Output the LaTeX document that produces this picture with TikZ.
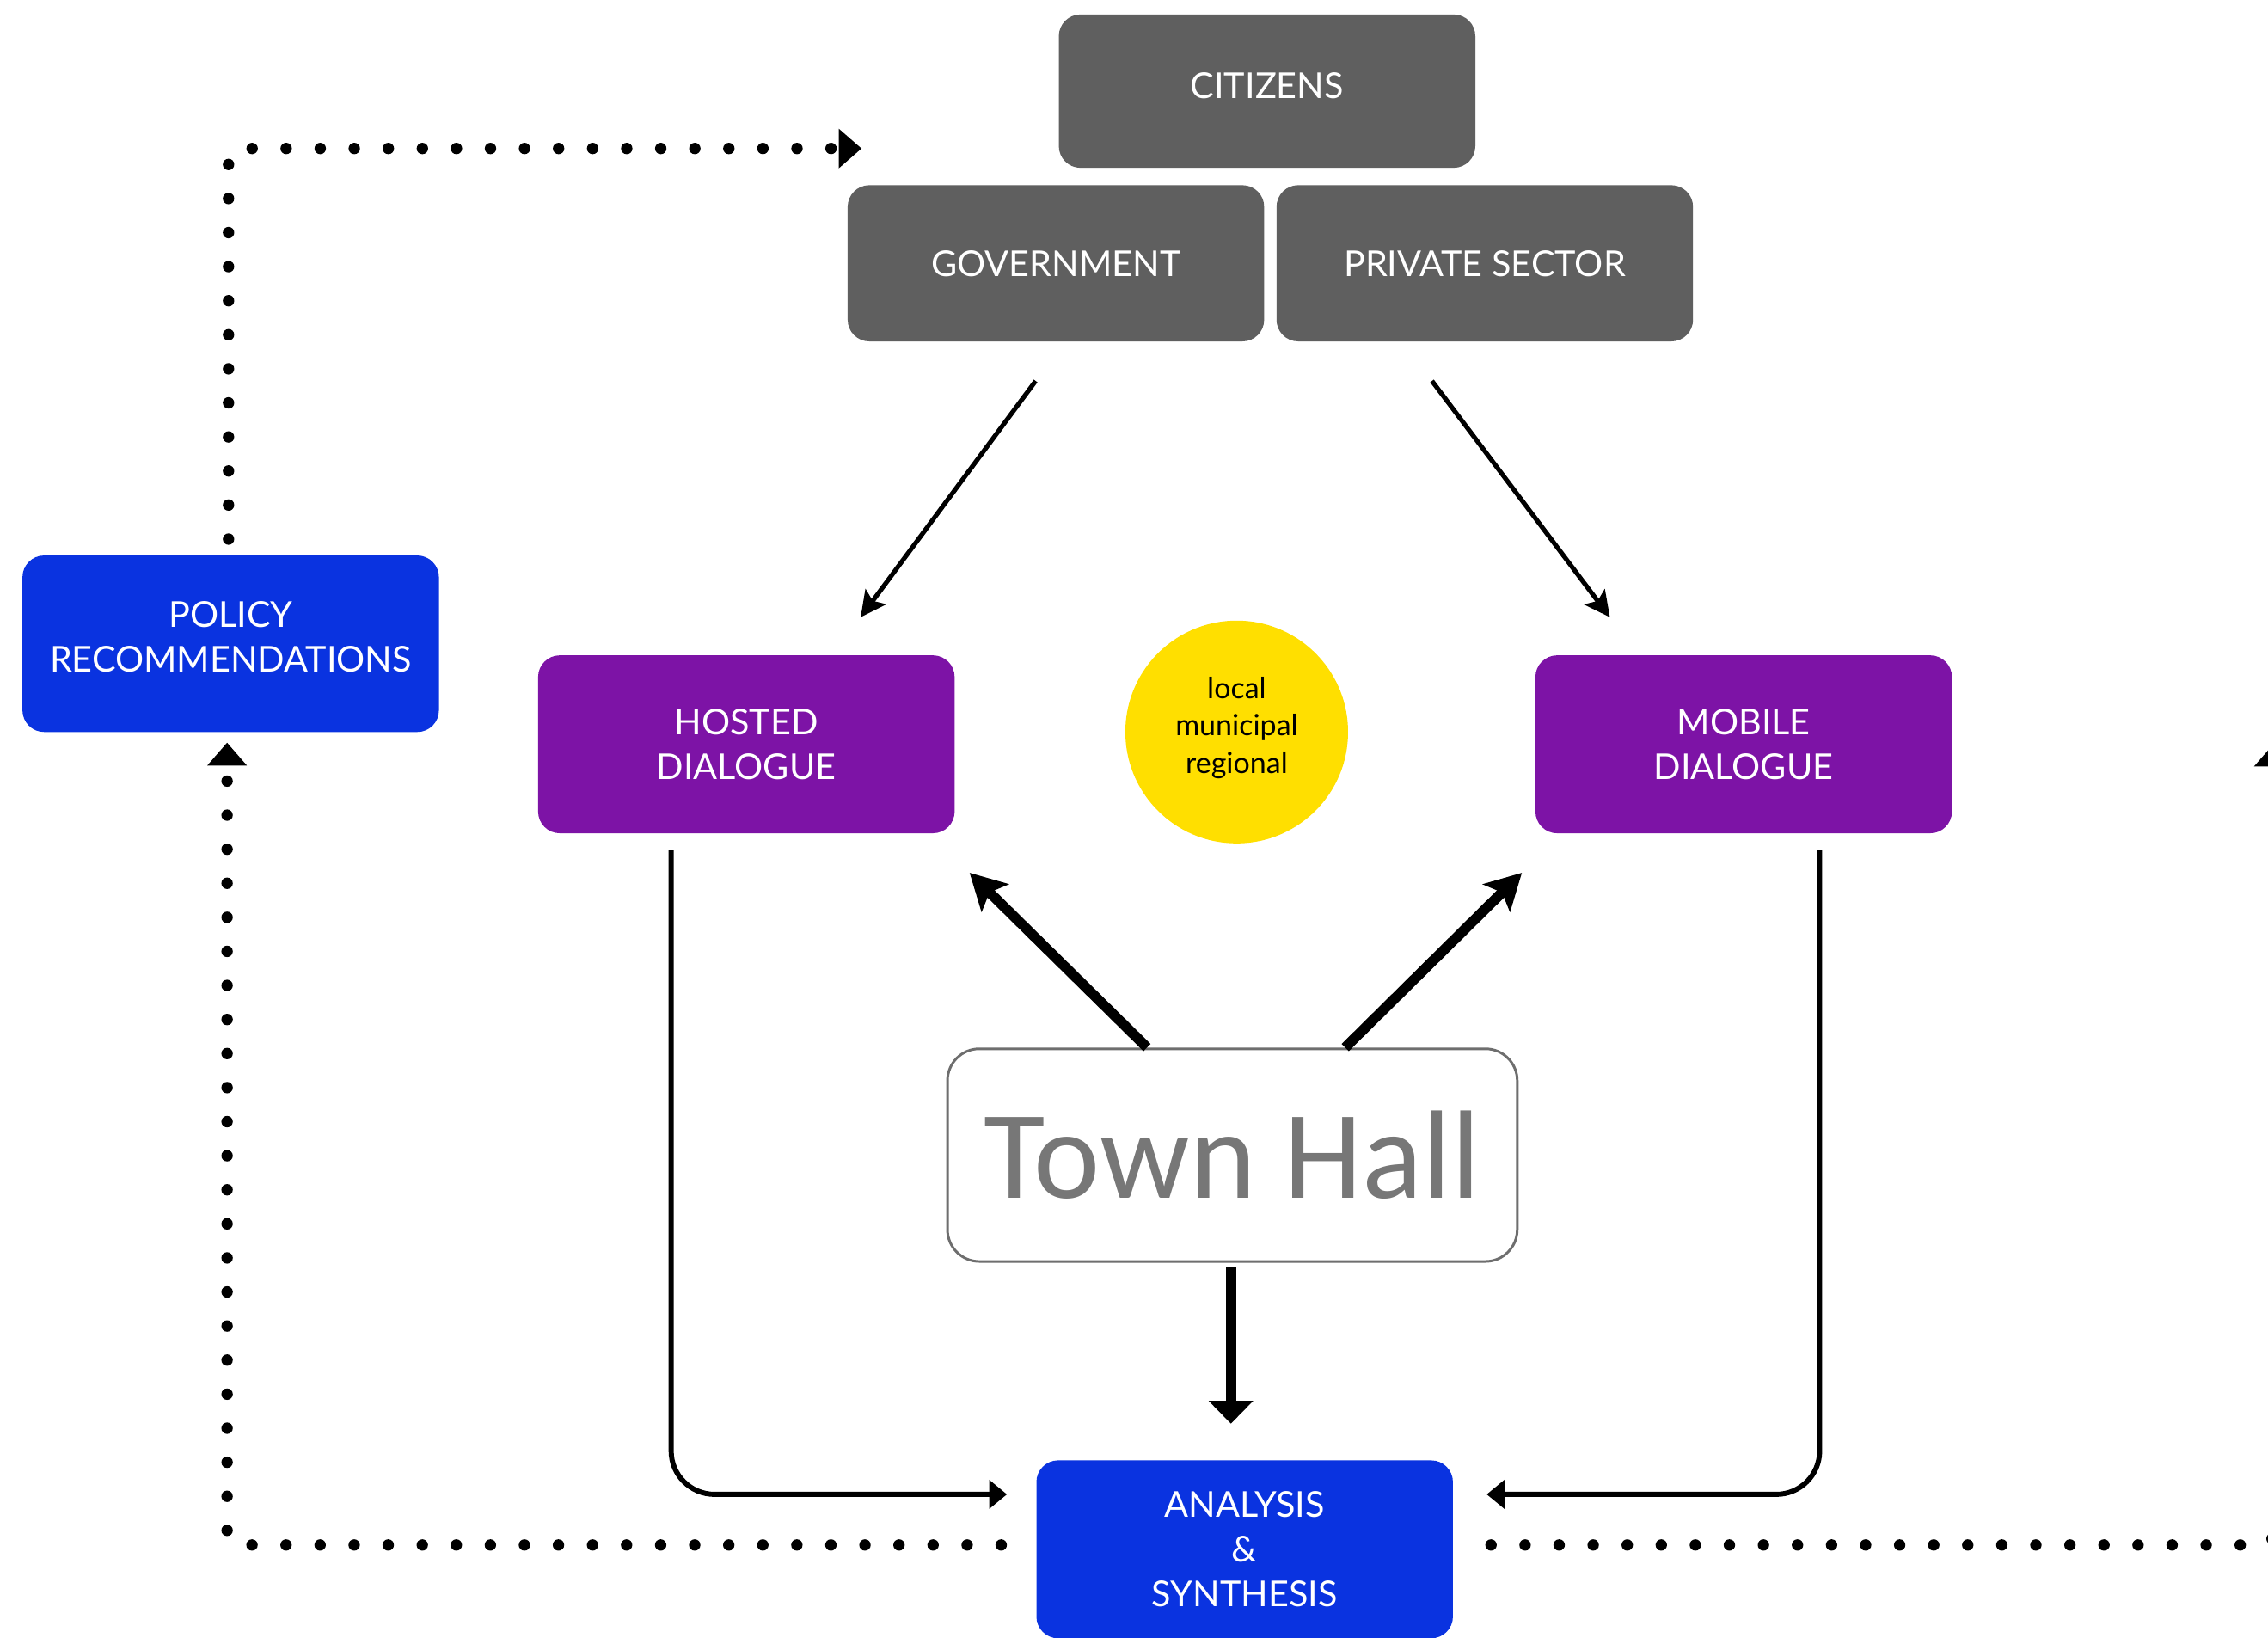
\documentclass[tikz,border=0pt]{standalone}
\usepackage{fontspec}
\setmainfont{Lato}
\newfontfamily\hallfont{Carlito}
\usetikzlibrary{arrows.meta}
\usetikzlibrary{calc}
\usetikzlibrary{positioning}

\definecolor{boxgray}{HTML}{5F5F5F}
\definecolor{boxblue}{HTML}{0A33E0}
\definecolor{boxpurple}{HTML}{7D13A6}
\definecolor{circyellow}{HTML}{FFDF00}
\definecolor{hallgray}{HTML}{777777}
\definecolor{hallline}{HTML}{6E6E6E}

\begin{document}
\begin{tikzpicture}[x=0.02cm,y=-0.02cm,
  box/.style={rectangle,rounded corners=0.3cm,minimum width=5.76cm,inner sep=0pt,align=center,text=white,font=\fontsize{14}{17.5}\selectfont},
  thin arrow/.style={line width=1.8pt,-{Stealth[length=10pt,width=10pt,inset=2pt]}},
  thick arrow/.style={line width=4pt,-{Stealth[length=14pt,width=15pt,inset=3pt]}},
  down arrow/.style={line width=4pt,-{Triangle[length=9pt,width=17pt]}},
  elbow arrow/.style={line width=2pt,rounded corners=0.6cm,-{Triangle[length=7pt,width=11pt]}},
  dots/.style={line width=4.5pt,line cap=round,dash pattern=on 0pt off 13.4pt,rounded corners=5pt,-{Triangle[length=9pt,width=15pt]}}]

\fill[white] (0,0) rectangle (1568,1132);
\useasboundingbox (0,0) rectangle (1568,1132);
\clip (0,0) rectangle (1568,1132);

% top row
\node[box,fill=boxgray,minimum height=2.12cm,text depth=4.6pt] (citizens) at (876,63) {CITIZENS};
\node[box,fill=boxgray,minimum height=2.16cm] (gov) at (730,182) {GOVERNMENT};
\node[box,fill=boxgray,minimum height=2.16cm] (priv) at (1026.5,182) {PRIVATE SECTOR};

% dialogues
\node[box,fill=boxblue,minimum height=2.44cm,text depth=5.6pt] (policy) at (159.5,445) {POLICY\\RECOMMENDATIONS};
\node[box,fill=boxpurple,minimum height=2.46cm] (hosted) at (516,514.5) {HOSTED\\DIALOGUE};
\node[box,fill=boxpurple,minimum height=2.46cm] (mobile) at (1205.5,514.5) {MOBILE\\DIALOGUE};
\node[circle,fill=circyellow,minimum size=3.08cm,inner sep=0pt,align=center,text depth=5.5pt,font=\fontsize{11.5}{14.7}\selectfont] (level) at (855,506) {local\\municipal\\regional};

\node[rectangle,draw=hallline,line width=1pt,fill=white,rounded corners=0.44cm,minimum width=7.88cm,minimum height=2.94cm,inner sep=0pt,text=hallgray,font=\hallfont\fontsize{49.5}{52}\selectfont] (town) at (852,798.5) {Town Hall};
\node[box,fill=boxblue,minimum height=2.46cm] (analysis) at (860.5,1071) {ANALYSIS\\\&\\SYNTHESIS};

\coordinate (offright) at (1572,514);

% arrows
\draw[thin arrow] ($(gov.south)+(-14,27)$) -- ($(hosted.north)+(79,-26)$);
\draw[thin arrow] ($(priv.south)+(-36.5,27)$) -- ($(mobile.north)+(-92.5,-26)$);
\draw[thick arrow] ($(town.north)+(-59,0)$) -- ($(hosted.south east)+(10,27)$);
\draw[thick arrow] ($(town.north)+(78,0)$) -- ($(mobile.south west)+(-9,27)$);
\draw[down arrow] ($(town.south)+(-1,3)$) -- ($(town.south |- analysis.north)+(-1,-25)$);
\draw[elbow arrow] ($(hosted.south)+(-52,11)$) |- ($(analysis.west)+(-20,-38)$);
\draw[elbow arrow] ($(mobile.south)+(52.5,11)$) |- ($(analysis.east)+(23,-38)$);

% feedback loops
\draw[dots] ($(analysis.west)+(-24,-3)$) -| ($(policy.south)+(-2.5,7)$);
\draw[dots] ($(policy.north)+(-1.5,-11)$) |- ($(gov.north west)+(10,-25)$);
\draw[dots] ($(analysis.east)+(26,-3)$) -| (offright);
\end{tikzpicture}
\end{document}
